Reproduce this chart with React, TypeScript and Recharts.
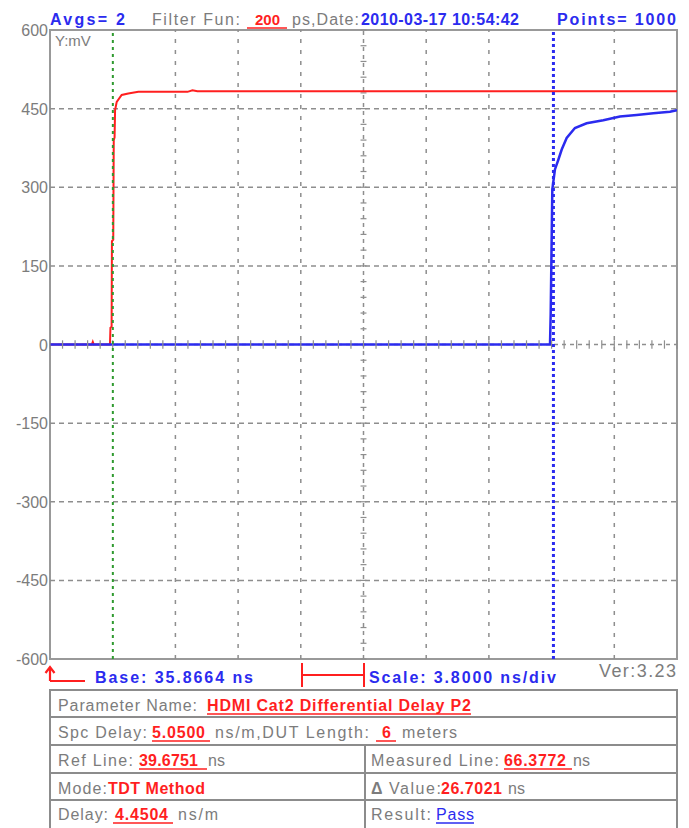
import React from 'react';
import { LineChart, Line, XAxis, YAxis, ReferenceLine, ReferenceArea } from 'recharts';

// scope settings
const BASE = 35.8664; // ns, left edge
const SCALE = 3.8; // ns/div
const DIVS = 10;
const REF_LINE = 39.6751;
const MEAS_LINE = 66.3772;

const yTicks = [-600, -450, -300, -150, 0, 150, 300, 450, 600];

// reference trace (red), ns / mV
const redT = [35.8664, 38.4, 38.46, 38.52, 39.5, 39.53, 39.6, 39.62, 39.7, 39.73, 39.78, 39.81, 39.91, 40.21, 40.61, 41.22, 44.2, 44.5, 44.8, 73.8664];
const redV = [0, 0, 5, 0, 0, 32, 34, 197, 200, 390, 395, 447, 463, 476, 479, 482, 482, 485, 483, 483];

// measured trace (blue)
const blueT = [35.8664, 66.17, 66.21, 66.31, 66.47, 66.67, 66.88, 67.18, 67.68, 68.39, 69.4, 70.41, 71.42, 72.43, 73.44, 73.8664];
const blueV = [0, 0, 57, 296, 334, 352, 372, 394, 413, 422, 428, 435, 438, 441, 444, 447];

const redData = redT.map((t, i) => ({ t, v: redV[i] }));
const blueData = blueT.map((t, i) => ({ t, v: blueV[i] }));

const X_MAX = BASE + DIVS * SCALE;
const xDivs = Array.from({ length: DIVS - 1 }, (_, i) => BASE + (i + 1) * SCALE);
const xCenter = BASE + (DIVS / 2) * SCALE;
const xGrid = xDivs.filter(
  (t) => Math.abs(t - xCenter) > 0.1 && Math.abs(t - REF_LINE) > 0.5 && Math.abs(t - MEAS_LINE) > 0.5
);
const yGrid = yTicks.filter((v) => v !== 0 && Math.abs(v) !== 600);
const xMinor = Array.from({ length: DIVS * 5 + 1 }, (_, i) => BASE + (i * SCALE) / 5);
const yMinor = Array.from({ length: 41 }, (_, i) => -600 + i * 30);

const BLUE = '#2b2bef';
const RED = '#ff1f1f';
const GRAY = '#7c7c7c';
const GRID = '#8e8e8e';
const FONT = '"Liberation Sans", Arial, sans-serif';

function YTick(props: any) {
  const { x, y, payload } = props;
  return (
    <text x={x} y={y + 6} textAnchor="end" fill={GRAY} fontSize={16} fontFamily={FONT}>
      {payload.value}
    </text>
  );
}

function Txt({ x, y, w, c = GRAY, b = false, s = 16, u, children }: any) {
  return (
    <>
      <text
        x={x}
        y={y}
        textLength={w}
        lengthAdjust={w ? 'spacing' : undefined}
        fill={c}
        fontWeight={b ? 'bold' : 'normal'}
        fontSize={s}
        fontFamily={FONT}
      >
        {children}
      </text>
      {u && <line x1={u[0]} x2={u[1]} y1={y + 3} y2={y + 3} stroke={c} strokeWidth={1.5} />}
    </>
  );
}

export default function App() {
  return (
    <div style={{ position: 'absolute', left: 0, top: 0, width: 689, height: 828, background: '#fff', overflow: 'hidden' }}>
      <div style={{ position: 'absolute', left: 0, top: 0 }}>
        <LineChart width={689} height={670} margin={{ top: 30, right: 12, bottom: 11, left: 10 }}>
          <XAxis type="number" dataKey="t" domain={[BASE, X_MAX]} hide allowDataOverflow />
          <YAxis
            type="number"
            domain={[-600, 600]}
            ticks={yTicks}
            interval={0}
            width={40}
            axisLine={false}
            tickLine={false}
            tickSize={0}
            tickMargin={2}
            tick={<YTick />}
            allowDataOverflow
          />
          {yGrid.map((v) => (
            <ReferenceLine key={'h' + v} y={v} stroke={GRID} strokeWidth={1.5} strokeDasharray="5 4" />
          ))}
          {xGrid.map((t) => (
            <ReferenceLine key={'v' + t} x={t} stroke={GRID} strokeWidth={1.5} strokeDasharray="4 7" />
          ))}
          <ReferenceLine x={xCenter} stroke={GRID} strokeWidth={1.5} strokeDasharray="4 4" />
          <ReferenceLine y={0} stroke={GRID} strokeWidth={1.5} strokeDasharray="4 4" />
          {yMinor.map((v) => (
            <ReferenceLine
              key={'ym' + v}
              segment={[{ x: xCenter - 0.18, y: v }, { x: xCenter + 0.18, y: v }]}
              stroke={GRID}
              strokeWidth={1.2}
            />
          ))}
          <ReferenceArea x1={BASE} x2={X_MAX} y1={-600} y2={600} fill="none" stroke="#999" strokeWidth={2} />
          <Line data={redData} dataKey="v" type="linear" stroke={RED} strokeWidth={2} dot={false} isAnimationActive={false} />
          <Line data={blueData} dataKey="v" type="linear" stroke={BLUE} strokeWidth={2.5} dot={false} isAnimationActive={false} />
          {xMinor.map((t) => (
            <ReferenceLine
              key={'xm' + t}
              segment={[{ x: t, y: -8 }, { x: t, y: 8 }]}
              stroke={GRID}
              strokeWidth={1.2}
            />
          ))}
          <ReferenceLine x={REF_LINE} stroke="#2f9a2f" strokeWidth={2} strokeDasharray="3 4" />
          <ReferenceLine x={MEAS_LINE} stroke={BLUE} strokeWidth={3} strokeDasharray="3 3" />
        </LineChart>
      </div>
      <svg width={689} height={828} style={{ position: 'absolute', left: 0, top: 0, pointerEvents: 'none' }}>
        {/* header */}
        <Txt x={50} y={25} w={75} c={BLUE} b>Avgs= 2</Txt>
        <Txt x={152} y={25} w={88}>Filter Fun:</Txt>
        <Txt x={255} y={25} w={25} s={15} c={RED} b u={[247, 287]}>200</Txt>
        <Txt x={292} y={25} w={67}>ps,Date:</Txt>
        <Txt x={361} y={25} w={158} c={BLUE} b>2010-03-17 10:54:42</Txt>
        <Txt x={557} y={25} w={119} c={BLUE} b>Points= 1000</Txt>
        <Txt x={55} y={46} s={15}>Y:mV</Txt>

        {/* footer */}
        <path d="M50 681 V668 M45.5 673 L50 667 L54.5 673 M50 681 H85" stroke={RED} strokeWidth={2.2} fill="none" />
        <path d="M302 663 V687 M302 675 H364 M364 663 V687" stroke={RED} strokeWidth={2} fill="none" />
        <Txt x={95} y={683} w={158} c={BLUE} b>Base: 35.8664 ns</Txt>
        <Txt x={369} y={683} w={187} c={BLUE} b>Scale: 3.8000 ns/div</Txt>
        <Txt x={599} y={677} w={77} s={18}>Ver:3.23</Txt>

        {/* parameter table */}
        <rect x={50} y={690} width={627} height={142} fill="none" stroke="#8c8c8c" strokeWidth={2} />
        <path d="M50 717 H677 M50 745 H677 M50 773 H677 M50 800 H677 M365 745 V830" stroke="#8c8c8c" strokeWidth={2} fill="none" />

        <Txt x={58} y={711} w={139}>Parameter Name:</Txt>
        <Txt x={207} y={711} w={264} c={RED} b u={[207, 471]}>HDMI Cat2 Differential Delay P2</Txt>

        <Txt x={58} y={738} w={89}>Spc Delay:</Txt>
        <Txt x={152} y={738} w={53} c={RED} b u={[152, 210]}>5.0500</Txt>
        <Txt x={215} y={738} w={154}>ns/m,DUT Length:</Txt>
        <Txt x={382} y={738} c={RED} b u={[376, 396]}>6</Txt>
        <Txt x={402} y={738} w={55}>meters</Txt>

        <Txt x={58} y={766} w={75}>Ref Line:</Txt>
        <Txt x={139} y={766} w={59} c={RED} b u={[139, 207]}>39.6751</Txt>
        <Txt x={208} y={766}>ns</Txt>
        <Txt x={371} y={766} w={128}>Measured Line:</Txt>
        <Txt x={504} y={766} w={62} c={RED} b u={[504, 572]}>66.3772</Txt>
        <Txt x={573} y={766}>ns</Txt>

        <Txt x={58} y={794} w={49}>Mode:</Txt>
        <Txt x={108} y={794} w={97} c={RED} b>TDT Method</Txt>
        <Txt x={371} y={794} b>Δ</Txt>
        <Txt x={389} y={794} w={52}>Value:</Txt>
        <Txt x={441} y={794} w={61} c={RED} b>26.7021</Txt>
        <Txt x={508} y={794}>ns</Txt>

        <Txt x={58} y={820} w={50}>Delay:</Txt>
        <Txt x={115} y={820} w={53} c={RED} b u={[113, 173]}>4.4504</Txt>
        <Txt x={178} y={820} w={40}>ns/m</Txt>
        <Txt x={371} y={820} w={60}>Result:</Txt>
        <Txt x={436} y={820} w={38} c={BLUE} u={[436, 474]}>Pass</Txt>
      </svg>
    </div>
  );
}
